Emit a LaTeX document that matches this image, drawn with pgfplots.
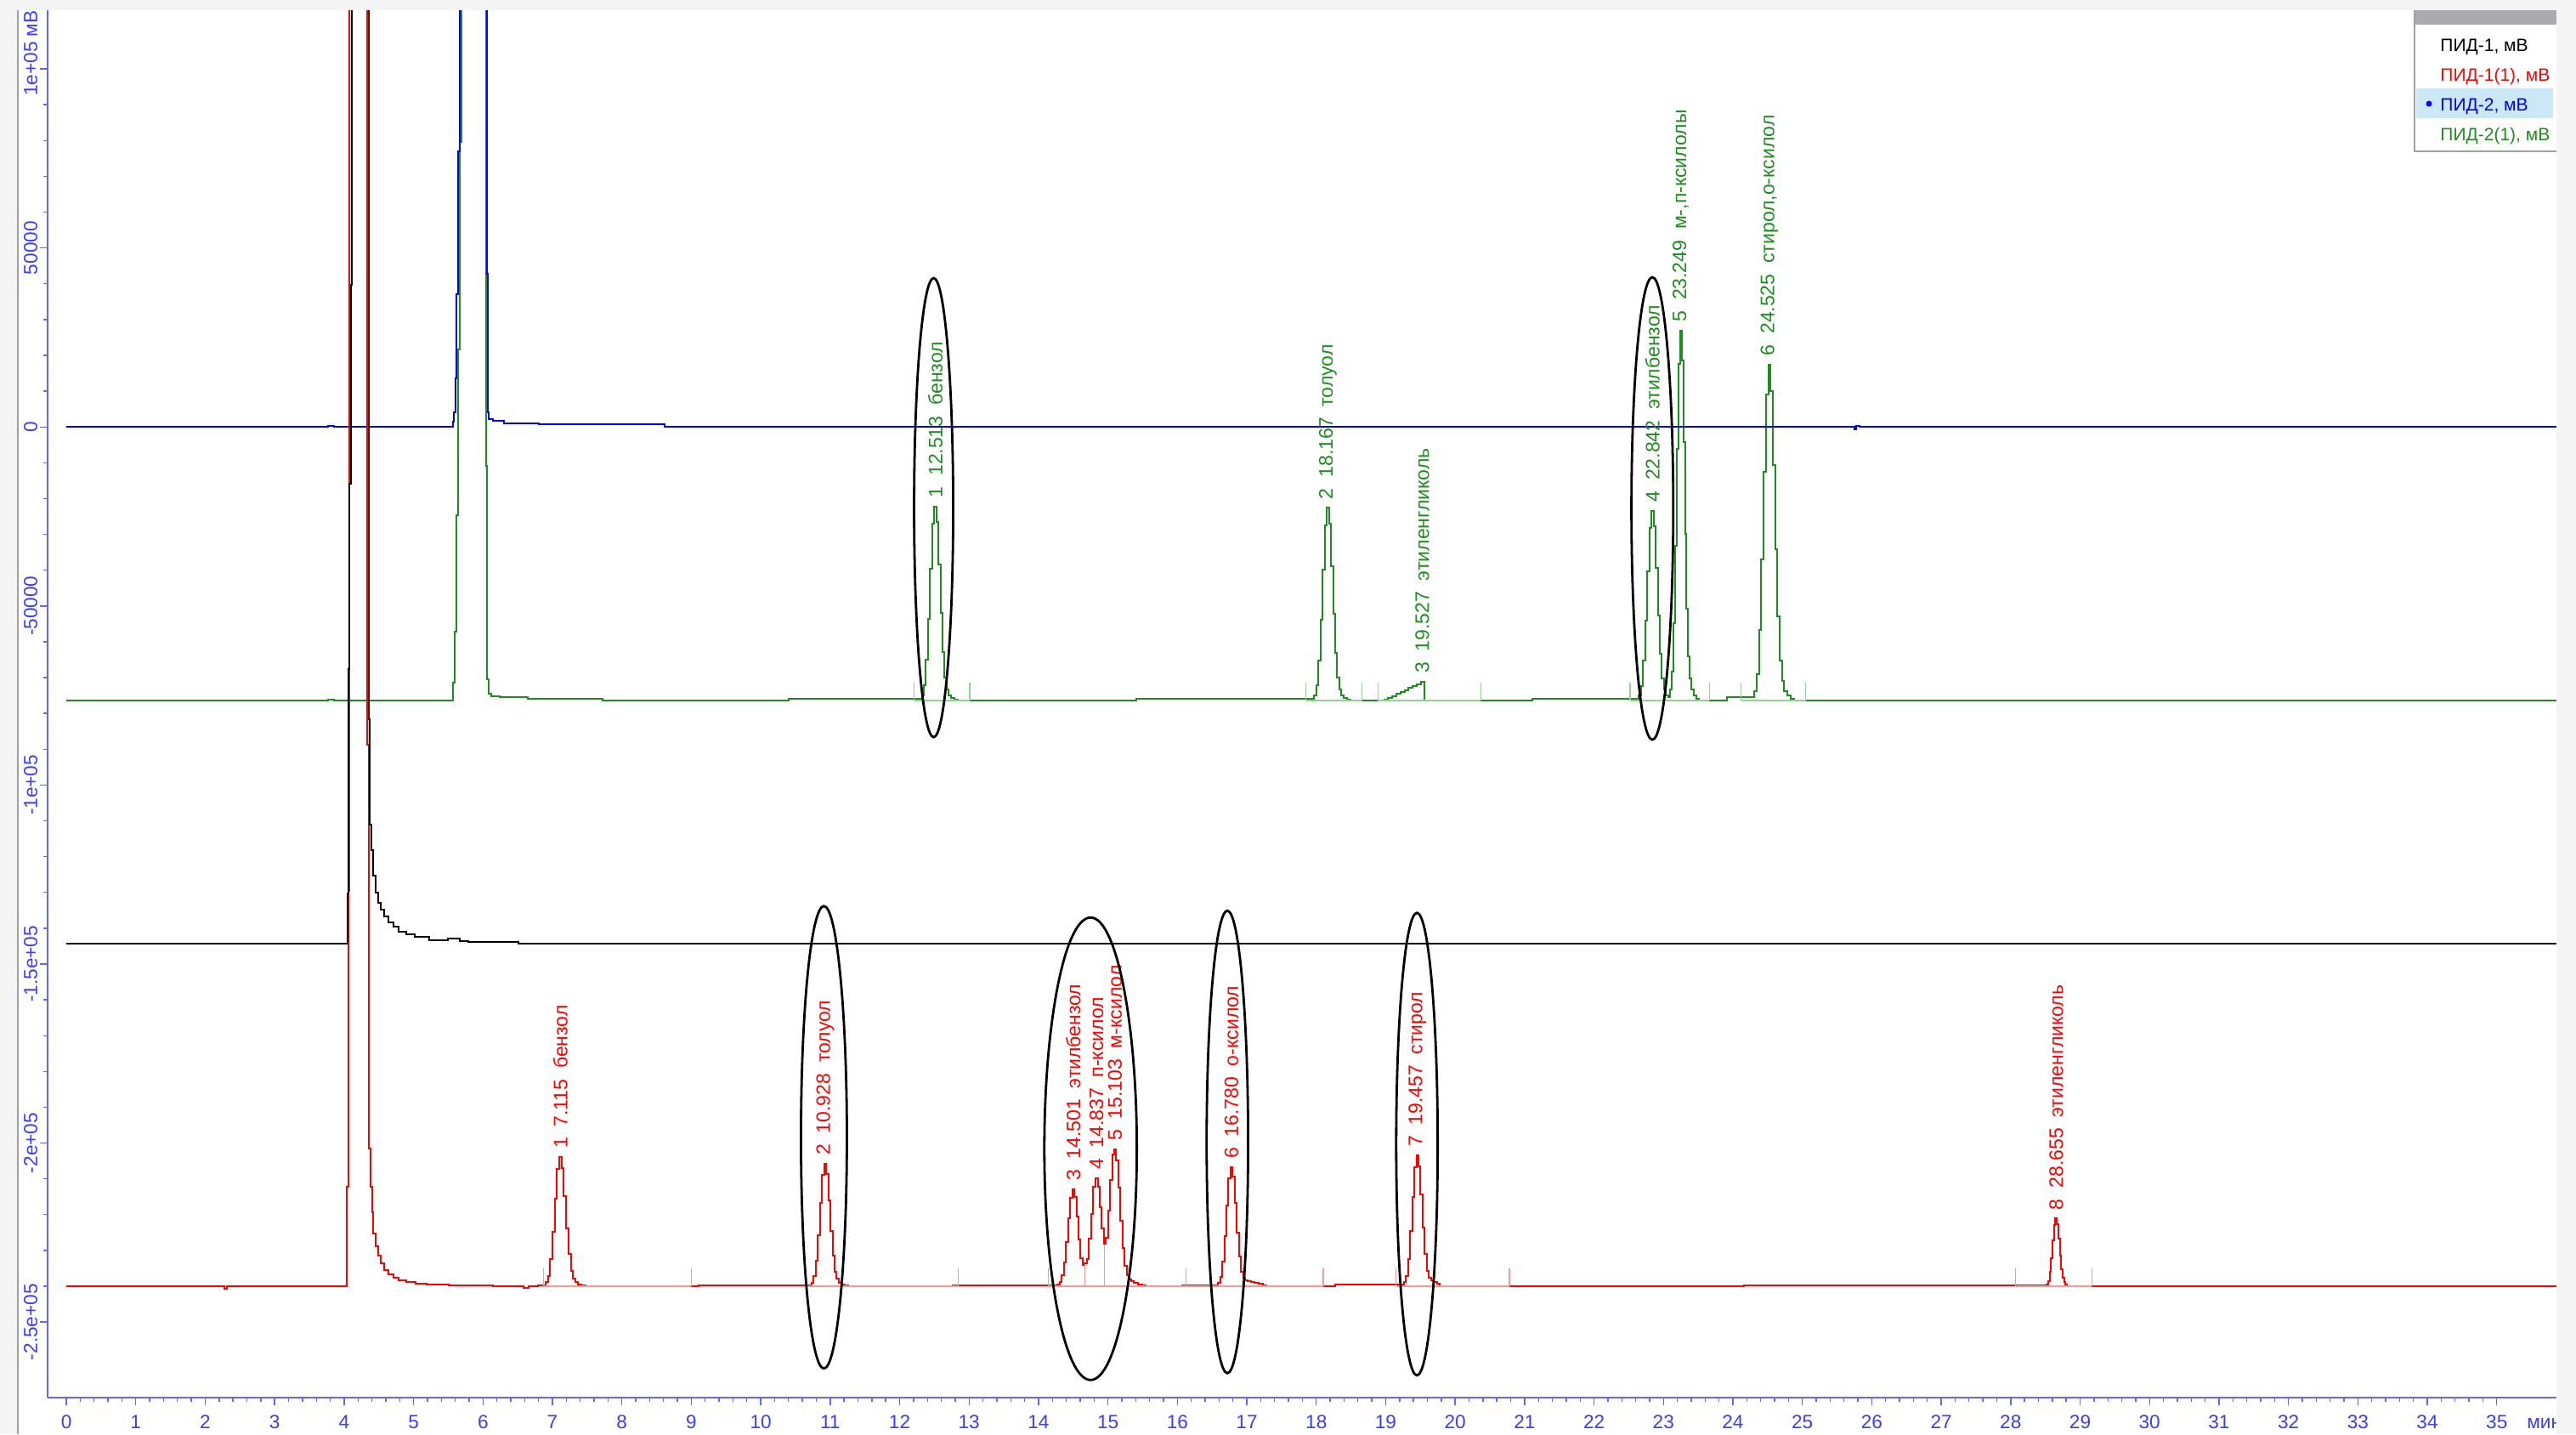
\documentclass[border=0pt]{standalone}
\usepackage{fontspec}
\setmainfont{Liberation Sans}
\usepackage{pgfplots}
\pgfplotsset{compat=1.18}

\definecolor{pagegray}{RGB}{244,244,244}
\definecolor{framegray}{RGB}{160,160,160}
\definecolor{headgray}{RGB}{170,170,175}
\definecolor{selblue}{RGB}{204,232,247}
\definecolor{axisblue}{RGB}{100,100,255}
\definecolor{labelblue}{RGB}{60,60,255}
\definecolor{trgreen}{RGB}{30,140,30}
\definecolor{palegreen}{RGB}{150,210,150}
\definecolor{trred}{RGB}{255,0,0}
\definecolor{palered}{RGB}{255,150,150}
\definecolor{trblue}{RGB}{0,0,255}

\newcommand\lbl{\fontsize{11.5}{13}\selectfont}
\newcommand\tck{\fontsize{11.3}{13}\selectfont}
\newcommand\leg{\fontsize{10.5}{12}\selectfont}

\begin{document}
\begin{tikzpicture}[x=1pt,y=1pt]
% window background
\fill[pagegray] (0,0) rectangle (1515.5,843.5);
\fill[white] (10.5,0) rectangle (1504,837.5);
\draw[framegray, line width=1pt] (10.5,0) -- (10.5,837.5);

\begin{axis}[
  at={(28pt,21.5pt)}, anchor=south west,
  scale only axis, width=1476pt, height=816pt,
  xmin=-0.27, xmax=35.86, ymin=-271100, ymax=116400,
  axis x line*=bottom, axis y line*=left,
  axis line style={axisblue, line width=0.7pt, -},
  tick style={axisblue, line width=0.7pt},
  tick align=outside,
  major tick length=4.5pt, minor tick length=2.5pt,
  xtick={0,1,...,35}, minor x tick num=4,
  ytick={-250000,-200000,-150000,-100000,-50000,0,50000,100000},
  minor y tick num=4,
  scaled y ticks=false, scaled x ticks=false,
  yticklabels={-2.5e+05,-2e+05,-1.5e+05,-1e+05,-50000,0,50000,{1e+05\rlap{\ мВ}}},
  /pgf/number format/assume math mode=true,
  ticklabel style={text=labelblue, font=\tck},
  yticklabel style={rotate=90, anchor=south, inner sep=1.3pt},
  xticklabel style={anchor=north, yshift=-2.5pt},
  every axis plot/.append style={const plot mark mid, line width=1pt},
  unbounded coords=jump,
]

% ПИД-2(1)
\addplot[trgreen] coordinates {
(0,-76500) (3.76,-76500) (3.78,-76100) (3.84,-76100) (3.86,-76500)
(5.57,-76500) (5.575,-71400) (5.61,-57100) (5.63,-24700) (5.65,21600) (5.68,79500) (5.70,140000)
(6.04,140000) (6.045,-10800) (6.07,-70400) (6.09,-74600) (6.14,-75200) (6.35,-75500) (6.95,-75900) (8.5,-76500)
(12.303,-75957) (12.333,-74871) (12.363,-72156) (12.393,-65097) (12.423,-53694) (12.453,-39576) (12.483,-27087) (12.513,-22200)
(12.543,-26544) (12.573,-38490) (12.603,-52065) (12.633,-62925) (12.663,-69984) (12.693,-73242) (12.723,-74871) (12.763,-75685) (12.813,-76228) (12.863,-76500)
(17.957,-75961) (17.987,-74883) (18.017,-72188) (18.047,-65181) (18.077,-53862) (18.107,-39848) (18.137,-27451) (18.167,-22600)
(18.197,-26912) (18.227,-38770) (18.257,-52245) (18.287,-63025) (18.317,-70032) (18.347,-73266) (18.377,-74883) (18.417,-75691) (18.467,-76230) (18.517,-76500)
(18.97,-76500) (19.00,-76200) (19.06,-75700) (19.12,-75100) (19.18,-74600) (19.24,-74000) (19.30,-73500) (19.36,-72900) (19.42,-72400) (19.48,-71800) (19.54,-71200) (19.58,-76500)
(22.632,-75969) (22.662,-74907) (22.692,-72252) (22.722,-65349) (22.752,-54198) (22.782,-40392) (22.812,-28179) (22.842,-23400)
(22.872,-27648) (22.902,-39330) (22.932,-52605) (22.962,-63225) (22.992,-70128) (23.022,-73314) (23.052,-74907)
(23.081,-75466) (23.105,-73398) (23.129,-68228) (23.153,-54786) (23.177,-33072) (23.201,-6188) (23.225,17594) (23.249,26900)
(23.273,18628) (23.297,-4120) (23.321,-29970) (23.345,-50650) (23.369,-64092) (23.393,-70296) (23.417,-73398) (23.449,-74949) (23.489,-75983) (23.53,-76500)
(24.294,-75560) (24.327,-73681) (24.360,-68984) (24.393,-56770) (24.426,-37041) (24.459,-12614) (24.492,8995) (24.525,17450)
(24.558,9934) (24.591,-10735) (24.624,-34222) (24.657,-53012) (24.690,-65226) (24.723,-70863) (24.756,-73681) (24.800,-75091) (24.855,-76030) (24.91,-76500)
(35.9,-76500)
};
% integration baselines and peak limits, ПИД-2(1)
\addplot[palegreen, sharp plot] coordinates {
(12.21,-76500) (13.01,-76500) (13.01,nan)
(17.85,-76500) (18.66,-76500) (18.66,nan)
(18.89,-76500) (20.37,-76500) (20.37,nan)
(22.52,-76500) (23.66,-76500) (23.66,nan)
(24.12,-76500) (25.05,-76500)
};
\addplot[palegreen, sharp plot, line width=0.6pt] coordinates {
(12.21,-76500) (12.21,-71500) (12.21,nan)
(13.01,-76500) (13.01,-71500) (13.01,nan)
(17.85,-76500) (17.85,-71500) (17.85,nan)
(18.66,-76500) (18.66,-71500) (18.66,nan)
(18.89,-76500) (18.89,-71500) (18.89,nan)
(20.37,-76500) (20.37,-71500) (20.37,nan)
(22.52,-76500) (22.52,-71500) (22.52,nan)
(23.66,-76500) (23.66,-71500) (23.66,nan)
(24.12,-76500) (24.12,-71500) (24.12,nan)
(25.05,-76500) (25.05,-71500)
};

% ПИД-2
\addplot[trblue] coordinates {
(0,0) (3.76,0) (3.78,400) (3.84,400) (3.86,0)
(5.565,0) (5.57,1500) (5.59,4000) (5.61,13500) (5.63,37000) (5.65,77000) (5.67,140000)
(6.05,140000) (6.055,42800) (6.075,4000) (6.09,2300) (6.2,1700) (6.4,1100) (7.2,700) (8.6,700) (8.62,0)
(25.74,0) (25.76,-600) (25.80,200) (25.84,0) (35.9,0)
};

% ПИД-1(1)
\addplot[trred] coordinates {
(0,-240000) (2.27,-240000) (2.29,-240600) (2.33,-240000) (4.04,-240000) (4.045,-212300) (4.07,-129500) (4.09,140000)
(4.335,140000) (4.34,-88800) (4.37,-201600) (4.39,-212300) (4.41,-219400) (4.43,-225300) (4.47,-228900) (4.51,-231500)
(4.55,-233600) (4.61,-235400) (4.67,-236700) (4.75,-237600) (4.83,-238300) (4.95,-238800) (5.10,-239200) (5.28,-239500)
(5.73,-239800) (6.55,-240000) (6.62,-240400) (6.70,-240000)
(6.884,-239640) (6.917,-238920) (6.950,-237120) (6.983,-232440) (7.016,-224880) (7.049,-215520) (7.082,-207240) (7.115,-204000)
(7.148,-206880) (7.181,-214800) (7.214,-223800) (7.247,-231000) (7.280,-235680) (7.313,-237840) (7.346,-238920) (7.390,-239460) (7.445,-239820) (7.50,-240000)
(10.718,-239658) (10.748,-238974) (10.778,-237264) (10.808,-232818) (10.838,-225636) (10.868,-216744) (10.898,-208878) (10.928,-205800)
(10.958,-208536) (10.988,-216060) (11.018,-224610) (11.048,-231450) (11.078,-235896) (11.108,-237948) (11.138,-238974) (11.178,-239487) (11.228,-239829) (11.28,-240000)
(14.261,-239800) (14.291,-239622) (14.321,-238812) (14.351,-236922) (14.381,-233250) (14.411,-227634) (14.441,-220911) (14.471,-215241)
(14.501,-213000) (14.531,-215160) (14.561,-220520) (14.591,-226940) (14.621,-232110) (14.651,-234000) (14.681,-233700) (14.711,-232285)
(14.741,-226790) (14.771,-219860) (14.807,-212282) (14.837,-209900) (14.867,-212300) (14.897,-217820) (14.927,-223740) (14.957,-228200)
(14.987,-226500) (15.017,-218910) (15.047,-210380) (15.077,-203200) (15.103,-201800) (15.133,-204860) (15.163,-212500) (15.193,-221660)
(15.223,-229300) (15.253,-234270) (15.283,-236940) (15.313,-238100) (15.35,-238660) (15.40,-239050) (15.46,-239430) (15.52,-239770) (15.56,-240000)
(16.570,-239668) (16.600,-239004) (16.630,-237344) (16.660,-233028) (16.690,-226056) (16.720,-217424) (16.750,-209788) (16.780,-206800)
(16.810,-209456) (16.840,-216760) (16.870,-225060) (16.900,-231700) (16.930,-236016) (16.960,-237700) (16.990,-238300) (17.03,-238600)
(17.08,-238800) (17.14,-239000) (17.20,-239300) (17.26,-239700) (17.29,-240000)
(19.247,-239635) (19.277,-238905) (19.307,-237080) (19.337,-232335) (19.367,-224670) (19.397,-215180) (19.427,-206785) (19.457,-203500)
(19.487,-206420) (19.517,-214450) (19.547,-223575) (19.577,-230875) (19.607,-235620) (19.637,-237600) (19.667,-238400) (19.71,-238900) (19.76,-239300) (19.80,-240000)
(28.508,-239811) (28.529,-239433) (28.550,-238488) (28.571,-236031) (28.592,-232062) (28.613,-227148) (28.634,-222801) (28.655,-221100)
(28.676,-222612) (28.697,-226770) (28.718,-231495) (28.739,-235275) (28.760,-237732) (28.781,-238866) (28.802,-239433) (28.83,-240000)
(35.9,-240000)
};
% integration baselines and peak limits, ПИД-1(1)
\addplot[palered, sharp plot] coordinates {
(6.87,-240000) (9.0,-240000) (9.0,nan)
(10.64,-240000) (12.84,-240000) (12.84,nan)
(14.14,-240000) (18.10,-240000) (18.10,nan)
(19.15,-240000) (20.78,-240000) (20.78,nan)
(28.07,-240000) (29.17,-240000)
};
\addplot[palered, sharp plot, line width=0.6pt] coordinates {
(6.87,-240000) (6.87,-235000) (6.87,nan)
(9.0,-240000) (9.0,-235000) (9.0,nan)
(10.64,-240000) (10.64,-235000) (10.64,nan)
(12.84,-240000) (12.84,-235000) (12.84,nan)
(14.14,-240000) (14.14,-235000) (14.14,nan)
(14.67,-240000) (14.67,-233800) (14.67,nan)
(14.95,-240000) (14.95,-228400) (14.95,nan)
(16.12,-240000) (16.12,-235000) (16.12,nan)
(18.10,-240000) (18.10,-235000) (18.10,nan)
(19.15,-240000) (19.15,-235000) (19.15,nan)
(20.78,-240000) (20.78,-235000) (20.78,nan)
(28.07,-240000) (28.07,-235000) (28.07,nan)
(29.17,-240000) (29.17,-235000)
};

% ПИД-1
\addplot[black] coordinates {
(0,-144400) (4.045,-144400) (4.05,-130400) (4.07,-67700) (4.09,-15900) (4.10,39800) (4.12,140000)
(4.35,140000) (4.355,-81700) (4.38,-111100) (4.41,-118200) (4.43,-125300) (4.47,-130000) (4.51,-132800) (4.55,-134700)
(4.61,-136600) (4.67,-138300) (4.75,-139500) (4.83,-141100) (4.96,-141800) (5.08,-142500) (5.37,-143400) (5.62,-143000)
(5.72,-143500) (5.86,-143900) (7.15,-144400) (35.9,-144400)
};

% peak annotations
\begin{scope}[every node/.style={rotate=90, anchor=west, inner sep=5pt, font=\lbl}]
\node[text=trgreen] at (axis cs:12.513,-22200) {1\ \ 12.513\ \ бензол};
\node[text=trgreen] at (axis cs:18.167,-22600) {2\ \ 18.167\ \ толуол};
\node[text=trgreen] at (axis cs:19.527,-71200) {3\ \ 19.527\ \ этиленгликоль};
\node[text=trgreen] at (axis cs:22.842,-23400) {4\ \ 22.842\ \ этилбензол};
\node[text=trgreen] at (axis cs:23.249,26900) {5\ \ 23.249\ \ м-,п-ксилолы};
\node[text=trgreen] at (axis cs:24.525,17450) {6\ \ 24.525\ \ стирол,о-ксилол};
\node[text=trred] at (axis cs:7.115,-204000) {1\ \ 7.115\ \ бензол};
\node[text=trred] at (axis cs:10.928,-205800) {2\ \ 10.928\ \ толуол};
\node[text=trred] at (axis cs:14.501,-213000) {3\ \ 14.501\ \ этилбензол};
\node[text=trred] at (axis cs:14.837,-209900) {4\ \ 14.837\ \ п-ксилол};
\node[text=trred] at (axis cs:15.103,-201800) {5\ \ 15.103\ \ м-ксилол};
\node[text=trred] at (axis cs:16.780,-206800) {6\ \ 16.780\ \ о-ксилол};
\node[text=trred] at (axis cs:19.457,-203500) {7\ \ 19.457\ \ стирол};
\node[text=trred] at (axis cs:28.655,-221100) {8\ \ 28.655\ \ этиленгликоль};
\end{scope}

% hand-drawn selections
\begin{scope}[black, line width=1.4pt]
\draw (axis cs:12.49,-22540) ellipse [x radius=11.5pt, y radius=135pt];
\draw (axis cs:22.84,-22770) ellipse [x radius=12.3pt, y radius=136pt];
\draw (axis cs:10.91,-198400) ellipse [x radius=13.5pt, y radius=136pt];
\draw (axis cs:14.75,-201600) ellipse [x radius=27.2pt, y radius=136pt];
\draw (axis cs:16.72,-199700) ellipse [x radius=12.2pt, y radius=136pt];
\draw (axis cs:19.45,-200300) ellipse [x radius=12.2pt, y radius=136pt];
\end{scope}
\end{axis}

% time unit
\node[text=labelblue, anchor=base west, inner sep=0, font=\tck] at (1486.5,3.5) {мин};

% legend panel
\fill[white] (1420.5,754.5) rectangle (1504,837.5);
\fill[headgray] (1420.5,829) rectangle (1504,837.5);
\fill[selblue] (1421.5,774) rectangle (1502,791.5);
\draw[framegray, line width=0.6pt] (1420.5,837.5) -- (1420.5,754.5) -- (1504,754.5);
\node[anchor=base west, inner sep=0, font=\leg, text=black] at (1435.5,813) {ПИД-1, мВ};
\node[anchor=base west, inner sep=0, font=\leg, text=trred] at (1435.5,795.5) {ПИД-1(1), мВ};
\node[anchor=base west, inner sep=0, font=\leg, text=trblue] at (1435.5,778) {ПИД-2, мВ};
\node[anchor=base west, inner sep=0, font=\leg, text=trgreen] at (1435.5,760.5) {ПИД-2(1), мВ};
\fill[trblue] (1429,782.5) circle (1.75);

% window edges
\fill[pagegray] (1504,0) rectangle (1515.5,843.5);
\fill[pagegray] (0,837.5) rectangle (1515.5,843.5);

\pgfresetboundingbox
\useasboundingbox (0,0) rectangle (1515.5,843.5);
\end{tikzpicture}
\end{document}
